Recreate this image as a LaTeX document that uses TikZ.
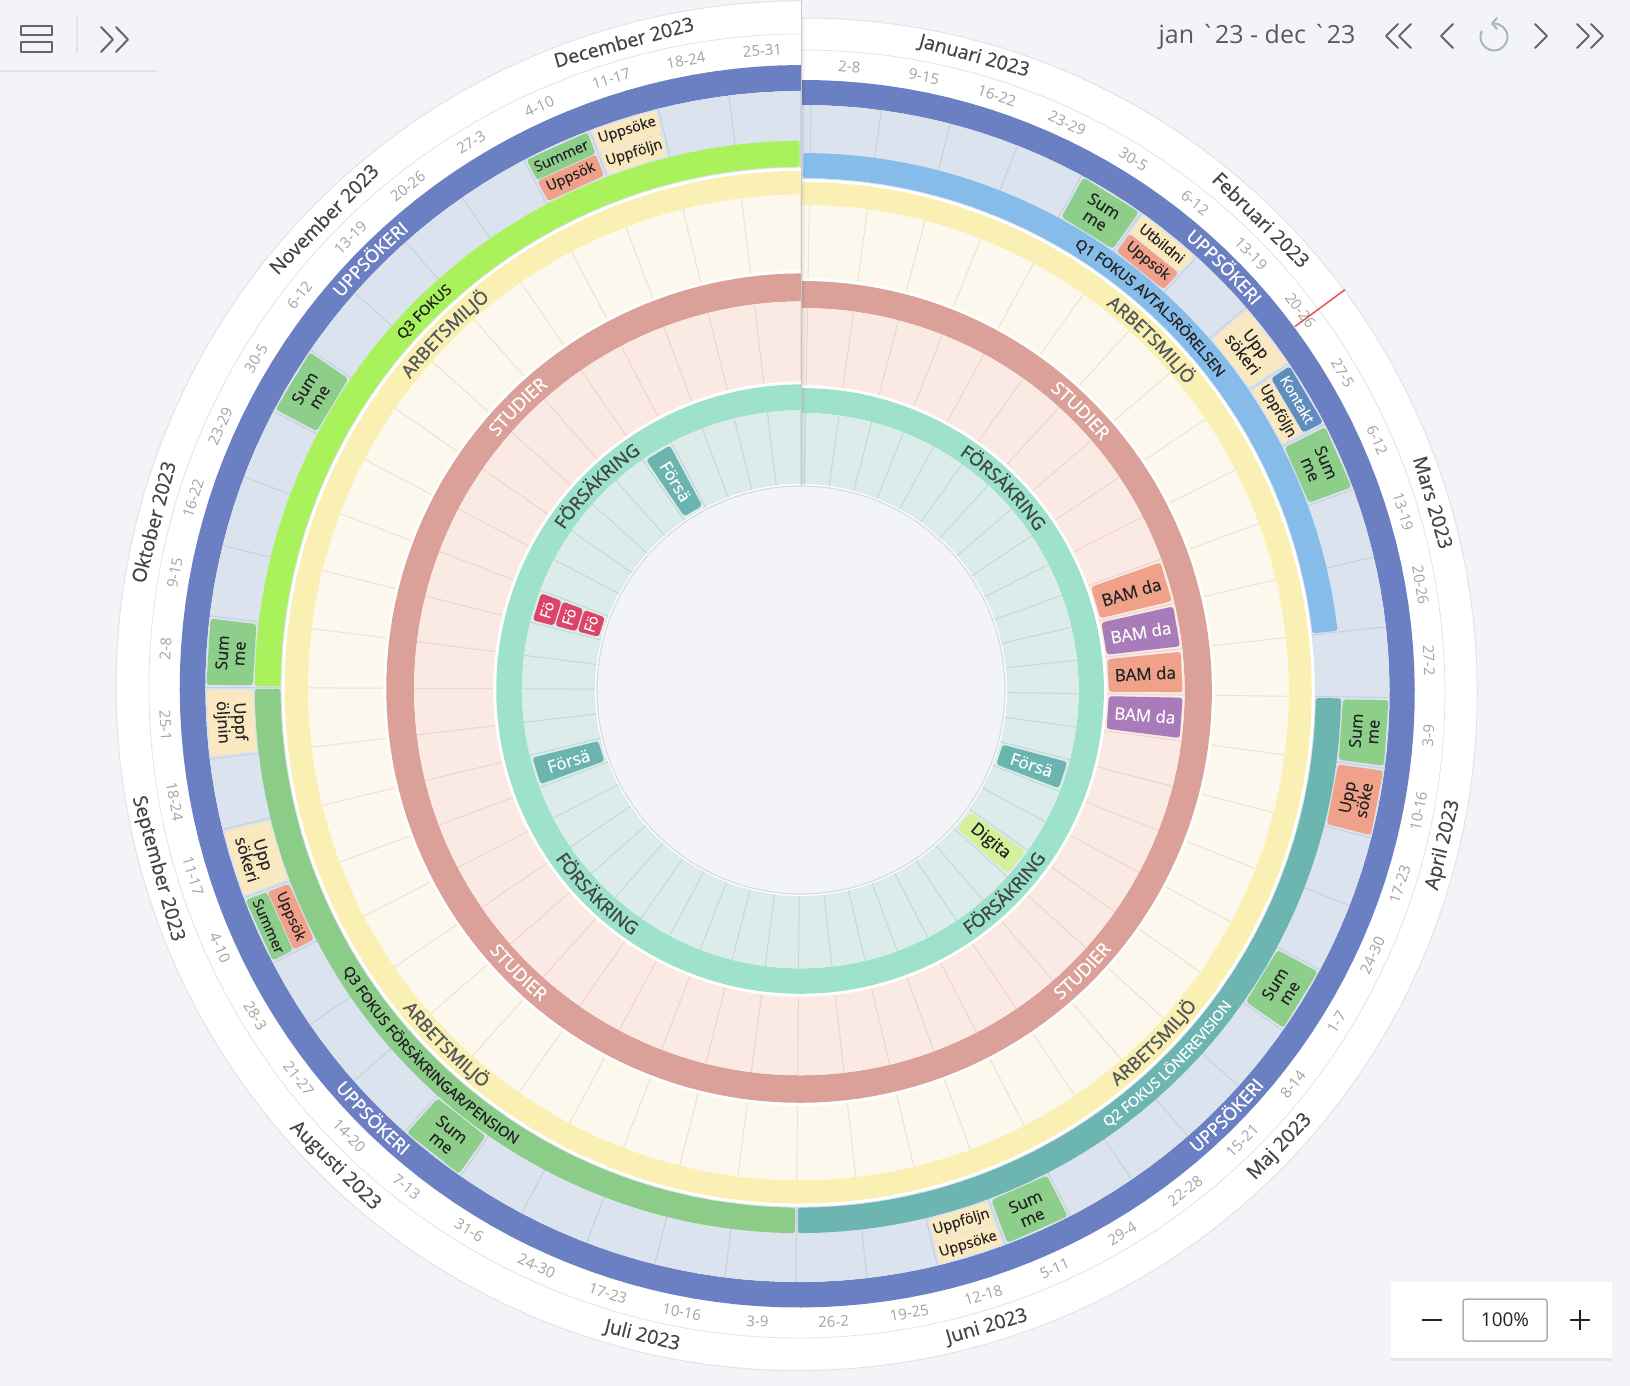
\documentclass[tikz,border=0pt]{standalone}
\usepackage{fontspec}
\setmainfont{Open Sans}
\newfontfamily\uifont{Open Sans}
\newfontfamily\medfont{Open Sans}[FakeBold=0.5]
\newfontfamily\semifont{Open Sans}[FakeBold=1.4]
\usetikzlibrary{decorations.text,shadows}
\definecolor{bgc}{HTML}{F3F4F8}
\definecolor{ublue}{HTML}{6A80C2}
\definecolor{ucell}{HTML}{DAE3EE}
\definecolor{udiv}{HTML}{C6D0DE}
\definecolor{qone}{HTML}{86BCE9}
\definecolor{qtwo}{HTML}{6CB5B0}
\definecolor{qthree}{HTML}{8BCD88}
\definecolor{qfour}{HTML}{A9F25C}
\definecolor{yhead}{HTML}{FBF0B3}
\definecolor{ycell}{HTML}{FCF8ED}
\definecolor{ydiv}{HTML}{E9E3D1}
\definecolor{shead}{HTML}{DBA199}
\definecolor{scell}{HTML}{FBE9E3}
\definecolor{sdiv}{HTML}{EAD5CF}
\definecolor{thead}{HTML}{9FE2CB}
\definecolor{tcell}{HTML}{DCECEA}
\definecolor{tdiv}{HTML}{C4D8D6}
\definecolor{igreen}{HTML}{8DCE8A}
\definecolor{iyellow}{HTML}{FAE8C0}
\definecolor{isalmon}{HTML}{F0A18A}
\definecolor{isteel}{HTML}{5F8DBC}
\definecolor{iteal}{HTML}{6BB4AF}
\definecolor{ired}{HTML}{DC4569}
\definecolor{ipurple}{HTML}{A77CB8}
\definecolor{ilime}{HTML}{D4F09B}
\definecolor{monthc}{HTML}{444444}
\definecolor{weekc}{HTML}{A3A3A3}
\definecolor{darkt}{HTML}{222222}
\definecolor{armc}{HTML}{52575C}
\definecolor{forc}{HTML}{3E4848}
\definecolor{iconc}{HTML}{666666}
\definecolor{hdrc}{HTML}{5A5A5A}
\definecolor{sepl}{HTML}{E2E3E8}
\definecolor{resetc}{HTML}{A9B5C5}
\definecolor{boxc}{HTML}{A9B2C0}
\definecolor{todayc}{HTML}{E35353}
\definecolor{innl}{HTML}{D8DADF}

\newcommand\dg{0.9863014}
\newcommand\ring[3]{\fill[#3] plot[domain=0:360,samples=181,variable=\u] ({px(\u,#2)},{py(\u,#2)}) -- plot[domain=360:0,samples=181,variable=\u] ({px(\u,#1)},{py(\u,#1)}) -- cycle;}
\newcommand\qarc[3]{%
 \pgfmathsetmacro\thA{(#1)*\dg+0.15}%
 \pgfmathsetmacro\thB{(#2)*\dg-0.15}%
 \fill[#3,rounded corners=2.5pt] plot[domain=\thA:\thB,samples=40,variable=\u] ({px(\u,537)},{py(\u,537)}) -- plot[domain=\thB:\thA,samples=40,variable=\u] ({px(\u,512)},{py(\u,512)}) -- cycle;}
\newcommand\boxpath[5]{\fill[#5,rounded corners=3pt] ({px(#1,#3)},{py(#1,#3)}) -- ({px(#1,#4)},{py(#1,#4)}) -- ({px(#2,#4)},{py(#2,#4)}) -- ({px(#2,#3)},{py(#2,#3)}) -- cycle;}
% tangential text item: week, r1, r2, fill, text colour, style, text
\newcommand\itemT[7]{%
 \pgfmathsetmacro\dS{1+7*#1}%
 \pgfmathsetmacro\rmid{(#2+#3)/2}%
 \pgfmathsetmacro\thA{\dS*\dg+2.5/\rmid*57.2958}%
 \pgfmathsetmacro\thB{(\dS+7)*\dg-2.5/\rmid*57.2958}%
 \pgfmathsetmacro\thM{(\dS+3.5)*\dg}%
 \pgfmathsetmacro\rot{(\thM>90 && \thM<270) ? 180-\thM : -\thM}%
 \boxpath{\thA}{\thB}{#2}{#3}{#4}%
 \node[#6,text=#5,rotate=\rot] at ({px(\thM,\rmid)},{py(\thM,\rmid)}) {#7};}
% radial text item
\newcommand\itemR[7]{%
 \pgfmathsetmacro\dS{1+7*#1}%
 \pgfmathsetmacro\rmid{(#2+#3)/2}%
 \pgfmathsetmacro\thA{\dS*\dg+2.5/\rmid*57.2958}%
 \pgfmathsetmacro\thB{(\dS+7)*\dg-2.5/\rmid*57.2958}%
 \pgfmathsetmacro\thM{(\dS+3.5)*\dg}%
 \pgfmathsetmacro\rot{(\thM<180) ? 90-\thM : 270-\thM}%
 \boxpath{\thA}{\thB}{#2}{#3}{#4}%
 \node[#6,text=#5,rotate=\rot] at ({px(\thM,\rmid)},{py(\thM,\rmid)}) {#7};}
% curved labels: theta, rmid, offset, format, text
\newcommand\arcU[5]{%
 \pgfmathsetmacro\rB{(#2)+0.0369*((#2)-203)*(#1)/360-(#3)}%
 \pgfmathsetmacro\aS{90-(#1)+40}%
 \pgfmathsetmacro\aE{90-(#1)-40}%
 \path[decorate,decoration={text along path,text align=center,text={|#4|#5}}] (\aS:\rB) arc[start angle=\aS,end angle=\aE,radius=\rB];}
\newcommand\arcL[5]{%
 \pgfmathsetmacro\rB{(#2)+0.0369*((#2)-203)*(#1)/360+(#3)}%
 \pgfmathsetmacro\aS{90-(#1)-40}%
 \pgfmathsetmacro\aE{90-(#1)+40}%
 \path[decorate,decoration={text along path,text align=center,text={|#4|#5}}] (\aS:\rB) arc[start angle=\aS,end angle=\aE,radius=\rB];}
\newcommand\hfnt{\semifont\fontsize{18}{18}\selectfont}
\newcommand\qfnt{\semifont\fontsize{14.5}{14.5}\selectfont}

\begin{document}
\begin{tikzpicture}[x=1pt,y=1pt,
 declare function={rr(\p,\q)=(\q)+0.0369*((\q)-203)*(\p)/360; px(\p,\q)=rr(\p,\q)*sin(\p); py(\p,\q)=rr(\p,\q)*cos(\p);},
 wk/.style={font=\fontsize{15}{15}\selectfont,text=weekc,inner sep=0pt},
 mon/.style={font=\medfont\fontsize{19.5}{19.5}\selectfont,text=monthc,inner sep=0pt},
 itxt/.style={font=\medfont\fontsize{16.5}{17}\selectfont,align=center,inner sep=0pt},
 itxs/.style={font=\medfont\fontsize{14.5}{15}\selectfont,align=center,inner sep=0pt},
 itxf/.style={font=\medfont\fontsize{15}{15}\selectfont,align=center,inner sep=0pt},
 itxr/.style={font=\medfont\fontsize{17}{17}\selectfont,align=center,inner sep=0pt},
 icon/.style={draw=iconc,line width=2pt,line cap=round,line join=round},
]
\useasboundingbox (-801,-696) rectangle (829,690);
\fill[bgc] (-801,-696) rectangle (829,690);

% outer white disk
\fill[white] plot[domain=0:360,samples=181,variable=\u] ({px(\u,672)},{py(\u,672)}) -- cycle;
\draw[sepl,line width=1pt] plot[domain=0:360,samples=181,variable=\u] ({px(\u,672)},{py(\u,672)});
\draw[sepl,line width=0.8pt] plot[domain=0:360,samples=181,variable=\u] ({px(\u,640)},{py(\u,640)});

% rings
\ring{585}{610}{ublue}
\ring{511}{585}{ucell}
\ring{485}{508}{yhead}
\ring{412}{485}{ycell}
\ring{382}{409}{shead}
\ring{305}{382}{scell}
\ring{277}{302}{thead}
\ring{206}{277}{tcell}

% week dividers
\foreach \k in {0,...,52}{
 \pgfmathsetmacro\thD{(1+7*\k)*\dg}
 \draw[udiv,line width=1pt] ({px(\thD,511)},{py(\thD,511)}) -- ({px(\thD,585)},{py(\thD,585)});
 \draw[ydiv,line width=1pt] ({px(\thD,412)},{py(\thD,412)}) -- ({px(\thD,485)},{py(\thD,485)});
 \draw[sdiv,line width=1pt] ({px(\thD,305)},{py(\thD,305)}) -- ({px(\thD,382)},{py(\thD,382)});
 \draw[tdiv,line width=1pt] ({px(\thD,206)},{py(\thD,206)}) -- ({px(\thD,277)},{py(\thD,277)});
}

% quarter arcs
\qarc{0.1}{85}{qone}
\qarc{92}{183}{qtwo}
\qarc{183}{274}{qthree}
\qarc{274}{365}{qfour}

% outer items
\itemT{4}{539}{584}{igreen}{darkt}{itxt}{Sum\\me}
\itemT{5}{562}{584}{iyellow}{darkt}{itxs}{Utbildni}
\itemT{5}{539}{561}{isalmon}{darkt}{itxs}{Uppsök}
\itemT{7}{539}{584}{iyellow}{darkt}{itxt}{Upp\\sökeri}
\itemT{8}{562}{584}{isteel}{white}{itxs}{Kontakt}
\itemT{8}{539}{561}{iyellow}{darkt}{itxs}{Uppföljn}
\itemT{9}{539}{584}{igreen}{darkt}{itxt}{Sum\\me}
\itemT{13}{539}{584}{igreen}{darkt}{itxt}{Sum\\me}
\itemT{14}{539}{584}{isalmon}{darkt}{itxt}{Upp\\söke}
\itemT{17}{539}{584}{igreen}{darkt}{itxt}{Sum\\me}
\itemT{22}{539}{584}{igreen}{darkt}{itxt}{Sum\\me}
\itemT{23}{562}{584}{iyellow}{darkt}{itxs}{Uppsöke}
\itemT{23}{539}{561}{iyellow}{darkt}{itxs}{Uppföljn}
\itemT{31}{539}{584}{igreen}{darkt}{itxt}{Sum\\me}
\itemT{35}{562}{584}{igreen}{darkt}{itxs}{Summer}
\itemT{35}{539}{561}{isalmon}{darkt}{itxs}{Uppsök}
\itemT{36}{539}{584}{iyellow}{darkt}{itxt}{Upp\\sökeri}
\itemT{38}{539}{584}{iyellow}{darkt}{itxt}{Uppf\\öljnin}
\itemT{39}{539}{584}{igreen}{darkt}{itxt}{Sum\\me}
\itemT{43}{539}{584}{igreen}{darkt}{itxt}{Sum\\me}
\itemT{48}{562}{584}{igreen}{darkt}{itxs}{Summer}
\itemT{48}{539}{561}{isalmon}{darkt}{itxs}{Uppsök}
\itemT{49}{562}{584}{iyellow}{darkt}{itxs}{Uppsöke}
\itemT{49}{539}{561}{iyellow}{darkt}{itxs}{Uppföljn}

% STUDIER items
\itemR{10}{307}{380}{isalmon}{darkt}{itxr}{BAM da}
\itemR{11}{307}{380}{ipurple}{white}{itxr}{BAM da}
\itemR{12}{307}{380}{isalmon}{darkt}{itxr}{BAM da}
\itemR{13}{307}{380}{ipurple}{white}{itxr}{BAM da}

% FÖRSÄKRING items
\itemR{15}{209}{275}{iteal}{white}{itxr}{Försä}
\itemR{18}{209}{275}{ilime}{darkt}{itxr}{Digita}
\itemR{36}{209}{275}{iteal}{white}{itxr}{Försä}
\itemR{47}{209}{275}{iteal}{white}{itxr}{Försä}
\itemT{41}{254}{275}{ired}{white}{itxf}{Fö}
\itemT{41}{231.5}{252.5}{ired}{white}{itxf}{Fö}
\itemT{41}{209}{230}{ired}{white}{itxf}{Fö}

% ring header labels
\arcU{45}{597.5}{6.4}{\color{white}\hfnt}{UPPSÖKERI}
\arcL{135}{597.5}{6.4}{\color{white}\hfnt}{UPPSÖKERI}
\arcL{225}{597.5}{6.4}{\color{white}\hfnt}{UPPSÖKERI}
\arcU{315}{597.5}{6.4}{\color{white}\hfnt}{UPPSÖKERI}
\arcU{45}{496.5}{6.4}{\color{armc}\hfnt}{ARBETSMILJÖ}
\arcL{135}{496.5}{6.4}{\color{armc}\hfnt}{ARBETSMILJÖ}
\arcL{225}{496.5}{6.4}{\color{armc}\hfnt}{ARBETSMILJÖ}
\arcU{315}{496.5}{6.4}{\color{armc}\hfnt}{ARBETSMILJÖ}
\arcU{45}{395.5}{6.4}{\color{white}\hfnt}{STUDIER}
\arcL{135}{395.5}{6.4}{\color{white}\hfnt}{STUDIER}
\arcL{225}{395.5}{6.4}{\color{white}\hfnt}{STUDIER}
\arcU{315}{395.5}{6.4}{\color{white}\hfnt}{STUDIER}
\arcU{45}{289.5}{6.4}{\color{forc}\hfnt}{FÖRSÄKRING}
\arcL{135}{289.5}{6.4}{\color{forc}\hfnt}{FÖRSÄKRING}
\arcL{225}{289.5}{6.4}{\color{forc}\hfnt}{FÖRSÄKRING}
\arcU{315}{289.5}{6.4}{\color{forc}\hfnt}{FÖRSÄKRING}
\arcU{42.4}{524.5}{5.2}{\color{darkt}\qfnt}{Q1 FOKUS AVTALSRÖRELSEN}
\arcL{135.6}{524.5}{5.2}{\color{white}\qfnt}{Q2 FOKUS LÖNEREVISION}
\arcL{225.4}{524.5}{5.2}{\color{darkt}\qfnt}{Q3 FOKUS FÖRSÄKRINGAR/PENSION}
\arcU{315.1}{524.5}{5.2}{\color{darkt}\qfnt}{Q3 FOKUS}

% week labels
\foreach \lab [count=\k from 0] in {2-8,9-15,16-22,23-29,30-5,6-12,13-19,20-26,27-5,6-12,13-19,20-26,27-2,3-9,10-16,17-23,24-30,1-7,8-14,15-21,22-28,29-4,5-11,12-18,19-25,26-2,3-9,10-16,17-23,24-30,31-6,7-13,14-20,21-27,28-3,4-10,11-17,18-24,25-1,2-8,9-15,16-22,23-29,30-5,6-12,13-19,20-26,27-3,4-10,11-17,18-24,25-31}{
 \pgfmathsetmacro\thW{(4.5+7*\k)*\dg}
 \pgfmathsetmacro\rotW{(\thW>90 && \thW<270) ? 180-\thW : -\thW}
 \node[wk,rotate=\rotW] at ({px(\thW,625)},{py(\thW,625)}) {\lab};
}
% month labels
\foreach \m/\dd in {Januari 2023/15.5,Februari 2023/45,Mars 2023/74.5,April 2023/105,Maj 2023/135.5,Juni 2023/166,Juli 2023/196.5,Augusti 2023/227.5,September 2023/258,Oktober 2023/288.5,November 2023/319,December 2023/349.5}{
 \pgfmathsetmacro\thM{\dd*\dg}
 \pgfmathsetmacro\rotM{(\thM>90 && \thM<270) ? 180-\thM : -\thM}
 \node[mon,rotate=\rotM] at ({px(\thM,656)},{py(\thM,656)}) {\m};
}

% today marker
\draw[todayc,line width=1.5pt] ({px(53.65,611)},{py(53.65,611)}) -- ({px(53.65,673)},{py(53.65,673)});

% inner circle
\fill[bgc] (0,0) circle[radius=204];
\draw[innl,line width=1.2pt] (0,0) circle[radius=204];

% seam
\foreach \i/\o in {0.6/0.10,1.5/0.07,2.4/0.05,3.3/0.03,4.2/0.015}{
 \draw[black,opacity=\o,line width=1pt] (\i,206) -- (\i,672);
}
\draw[black!22,line width=0.8pt] (0,204) -- (0,690);

% header and controls (image coordinates)
\begin{scope}[shift={(-801,690)},yscale=-1]
 \draw[icon,line width=2.2pt] (21,26) rectangle (52,35);
 \draw[icon,line width=2.2pt] (21,42) rectangle (52,52);
 \draw[sepl,line width=1.2pt] (77,15) -- (77,53);
 \draw[icon] (101,27) -- (113,39.5) -- (101,52);
 \draw[icon] (116,27) -- (128,39.5) -- (116,52);
 \draw[sepl,line width=1.5pt] (0,71) -- (157,71);
 \node[font=\uifont\fontsize{25}{25}\selectfont,text=hdrc,inner sep=0pt] (range) at (1257,37) {jan `23 - dec `23};
 \draw[icon] (1398,24) -- (1386,36) -- (1398,48);
 \draw[icon] (1411,24) -- (1399,36) -- (1411,48);
 \draw[icon] (1453,24) -- (1441,36) -- (1453,48);
 \draw[resetc,line width=2pt,line cap=round] (1494,37) ++(-95:13.5) arc[start angle=-95,end angle=205,radius=13.5];
 \draw[resetc,line width=2pt,line cap=round,line join=round] (1497,18) -- (1492,23.5) -- (1497,29);
 \draw[icon] (1535,24) -- (1547,36) -- (1535,48);
 \draw[icon] (1577,24) -- (1589,36) -- (1577,48);
 \draw[icon] (1591,24) -- (1603,36) -- (1591,48);
 \fill[white,drop shadow={opacity=0.12,shadow xshift=0pt,shadow yshift=-3pt}] (1391,1282) rectangle (1612,1358);
 \draw[darkt,line width=2pt] (1422,1320) -- (1442,1320);
 \draw[fill=white,draw=boxc,line width=1.5pt,rounded corners=3pt] (1463,1299) rectangle (1547,1341);
 \node[font=\uifont\fontsize{19}{19}\selectfont,text=darkt,inner sep=0pt] (zoomval) at (1505,1320) {100\%};
 \draw[darkt,line width=2pt] (1570,1320) -- (1590,1320) (1580,1310) -- (1580,1330);
\end{scope}
\end{tikzpicture}
\end{document}
